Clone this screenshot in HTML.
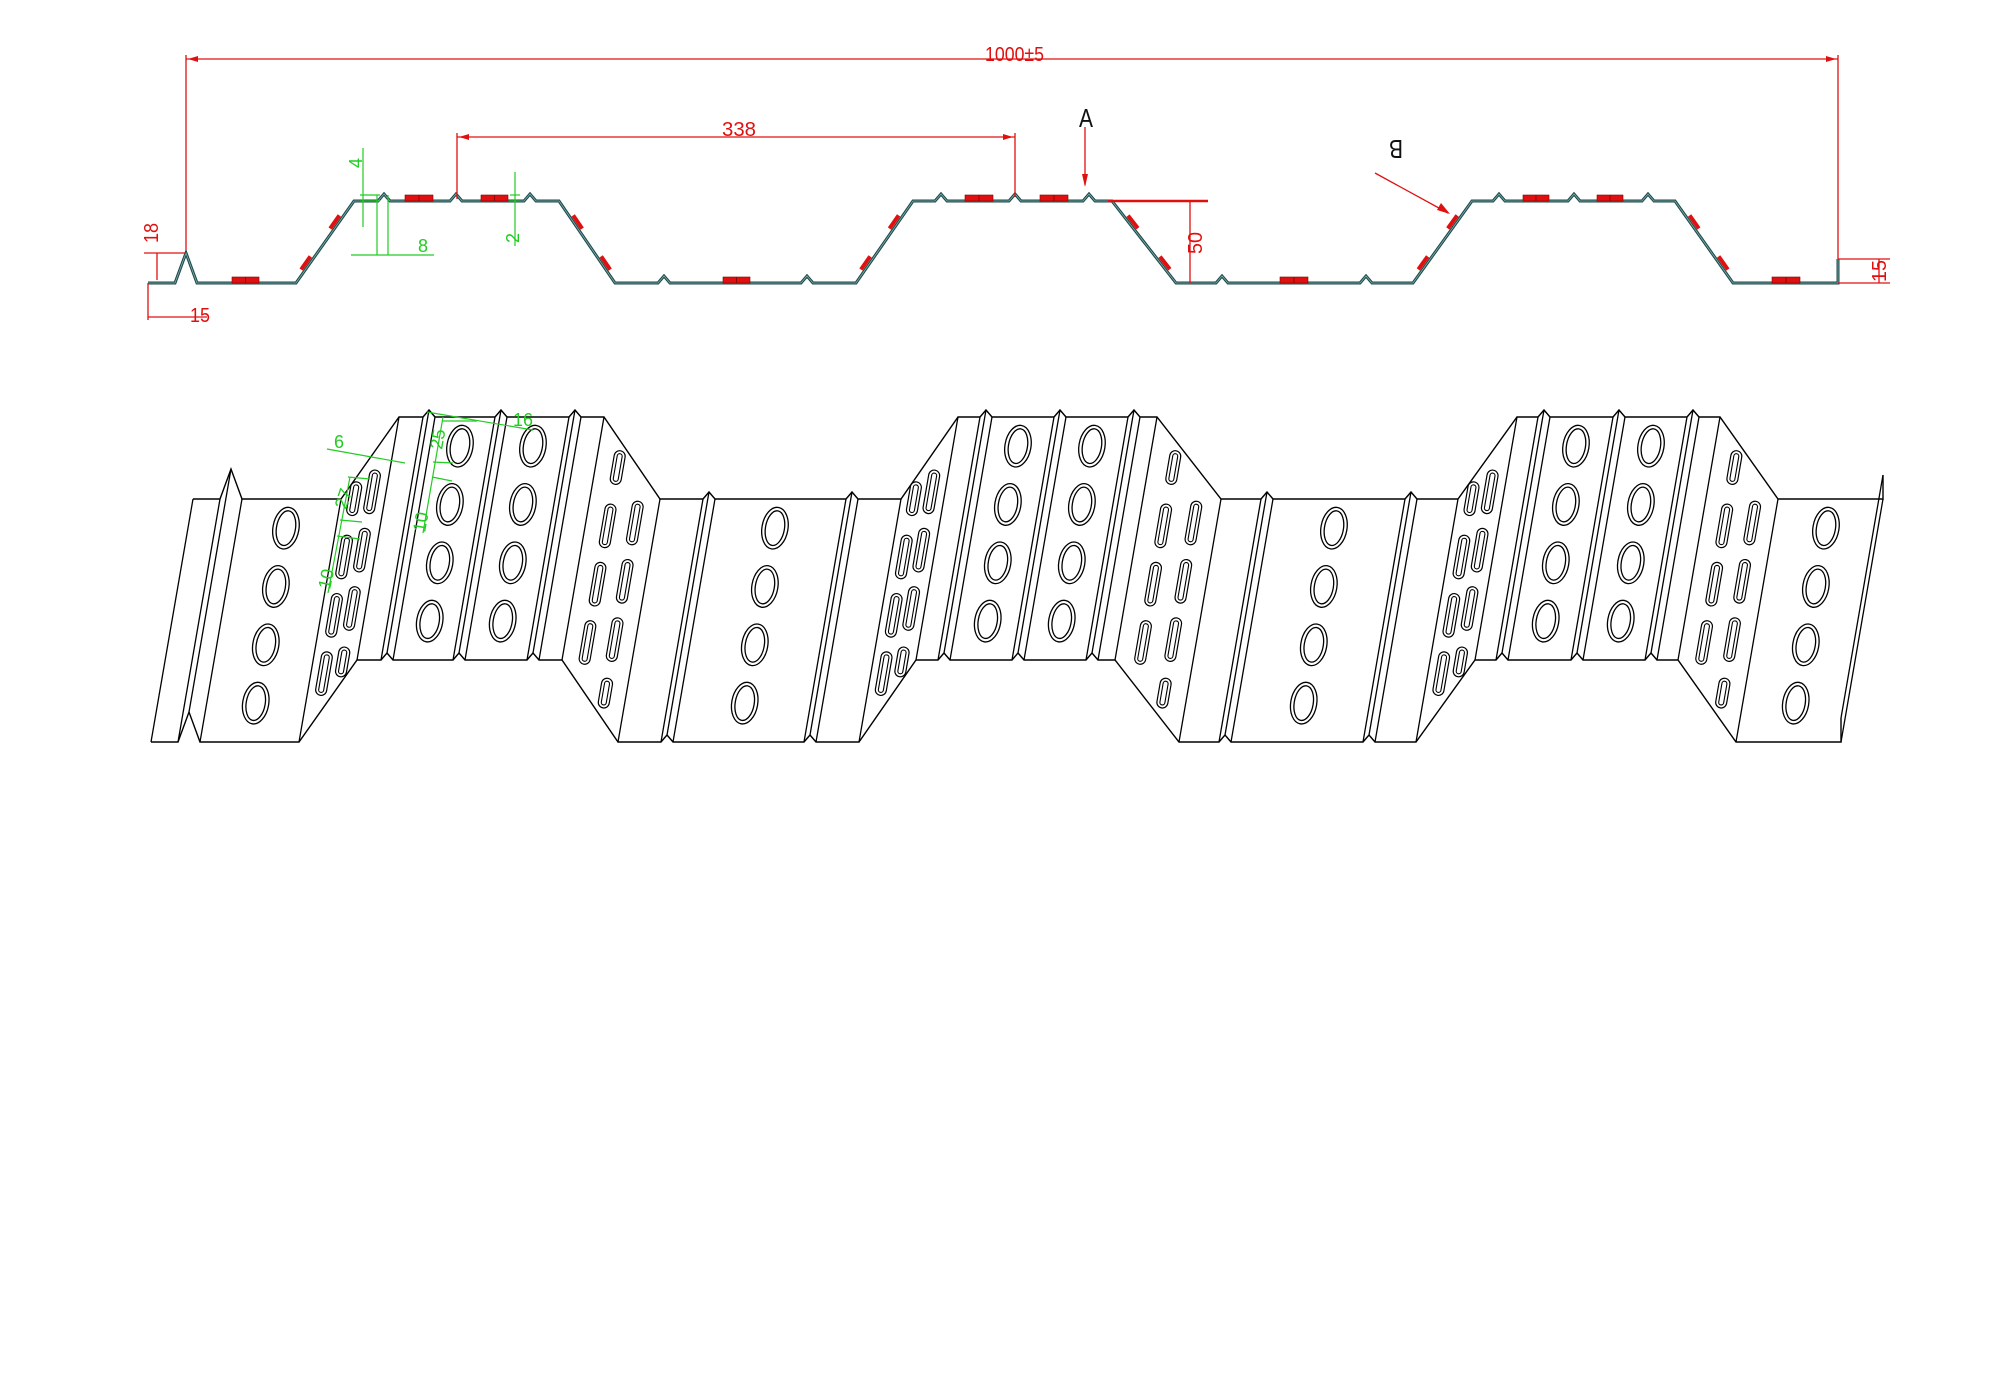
<!DOCTYPE html>
<html><head><meta charset="utf-8"><style>
html,body{margin:0;padding:0;background:#fff;}
svg{display:block;}
text{font-family:"Liberation Sans",sans-serif;}
</style></head><body>
<svg id="s" width="2000" height="1375" viewBox="0 0 2000 1375" xmlns="http://www.w3.org/2000/svg">
<rect width="2000" height="1375" fill="#fff"/>
<g id="geo"></g>
<g stroke="#e01010" stroke-width="1.3" fill="none">
<line x1="186" y1="59" x2="1838" y2="59"/>
<line x1="186" y1="55" x2="186" y2="250"/>
<line x1="1838" y1="55" x2="1838" y2="259"/>
<line x1="457" y1="137" x2="1015" y2="137"/>
<line x1="457" y1="133" x2="457" y2="199"/>
<line x1="1015" y1="133" x2="1015" y2="197"/>
<line x1="1085" y1="127" x2="1085" y2="185"/>
<line x1="1108" y1="201" x2="1208" y2="201" stroke-width="2.5"/>
<line x1="1190" y1="201" x2="1190" y2="283"/>
<line x1="1375" y1="173" x2="1448" y2="213"/>
<line x1="1838" y1="259" x2="1890" y2="259"/>
<line x1="1838" y1="283" x2="1890" y2="283"/>
<line x1="1879" y1="259" x2="1879" y2="283"/>
<line x1="144" y1="253" x2="186" y2="253"/>
<line x1="157" y1="253" x2="157" y2="280"/>
<line x1="148" y1="283" x2="148" y2="320"/>
<line x1="148" y1="317" x2="207" y2="317"/>
</g>
<g fill="#e01010">
<polygon points="1085,187 1082,174 1088,174"/>
<polygon points="1450,214 1437,210 1441,203"/>
<polygon points="459,137 469,134 469,140"/>
<polygon points="1013,137 1003,134 1003,140"/>
<polygon points="188,59 198,56 198,62"/>
<polygon points="1836,59 1826,56 1826,62"/>
</g>
<g fill="#e01010" font-size="20">
<text x="985" y="61" textLength="59" lengthAdjust="spacingAndGlyphs">1000±5</text>
<text x="722" y="136" textLength="34" lengthAdjust="spacingAndGlyphs">338</text>
<text x="190" y="322" textLength="20" lengthAdjust="spacingAndGlyphs">15</text>
<text transform="translate(158,243) rotate(-90)" textLength="20" lengthAdjust="spacingAndGlyphs">18</text>
<text transform="translate(1202,254) rotate(-90)" textLength="22" lengthAdjust="spacingAndGlyphs">50</text>
<text transform="translate(1886,282) rotate(-90)" textLength="22" lengthAdjust="spacingAndGlyphs">15</text>
</g>
<text x="1079" y="127" font-size="26" fill="#111" font-family="Liberation Serif,serif" textLength="14" lengthAdjust="spacingAndGlyphs">A</text>
<text transform="translate(1403,140) rotate(180)" font-size="26" fill="#111" font-family="Liberation Serif,serif" textLength="14" lengthAdjust="spacingAndGlyphs">B</text>
<g stroke="#22cc22" stroke-width="1.2" fill="none">
<line x1="363" y1="148" x2="363" y2="227"/>
<line x1="360" y1="195" x2="380" y2="195"/>
<line x1="360" y1="201" x2="380" y2="201"/>
<line x1="377" y1="195" x2="377" y2="255"/>
<line x1="388" y1="195" x2="388" y2="255"/>
<line x1="351" y1="255" x2="434" y2="255"/>
<line x1="515" y1="172" x2="515" y2="246"/>
<line x1="510" y1="195" x2="520" y2="195"/>
<line x1="510" y1="201" x2="520" y2="201"/>
</g>
<g fill="#22cc22" font-size="18">
<text transform="translate(362,168) rotate(-90)">4</text>
<text x="418" y="252">8</text>
<text transform="translate(519,243) rotate(-90)">2</text>
</g>
<g stroke="#22cc22" stroke-width="1.2" fill="none">
<line x1="327" y1="449" x2="405" y2="463"/>
<line x1="328" y1="593" x2="350" y2="477"/>
<line x1="423" y1="533" x2="443" y2="417"/>
<line x1="427" y1="412" x2="533" y2="430"/>
<line x1="433" y1="462" x2="453" y2="463"/>
<line x1="432" y1="477" x2="452" y2="481"/>
<line x1="442" y1="421" x2="477" y2="421"/>
<line x1="337" y1="536" x2="360" y2="539"/>
<line x1="340" y1="520" x2="362" y2="522"/>
<line x1="348" y1="477" x2="370" y2="479"/>
</g>
<g fill="#22cc22" font-size="18">
<text x="334" y="448">6</text>
<text transform="translate(346,510) rotate(-72)">27</text>
<text transform="translate(330,590) rotate(-78)">10</text>
<text transform="translate(442,450) rotate(-80)">25</text>
<text transform="translate(425,533) rotate(-80)">10</text>
<text x="513" y="426">16</text>
</g>
</svg>
<script>
(function(){
var NS="http://www.w3.org/2000/svg";
var g=document.getElementById("geo");
function el(n,a){var e=document.createElementNS(NS,n);for(var k in a)e.setAttribute(k,a[k]);g.appendChild(e);return e;}
var P=[];
function pt(x,y){P.push([x,y]);}
function notch(x,y){pt(x-6,y);pt(x,y-7);pt(x+6,y);}
pt(148,283);pt(175,283);pt(186,253);pt(197,283);pt(296,283);pt(354,201);
notch(384,201);notch(456,201);notch(530,201);pt(559,201);pt(615,283);
notch(664,283);notch(807,283);pt(856,283);pt(913,201);
notch(941,201);notch(1015,201);notch(1089,201);pt(1112,201);pt(1176,283);
notch(1222,283);notch(1366,283);pt(1413,283);pt(1472,201);
notch(1499,201);notch(1574,201);notch(1648,201);pt(1675,201);pt(1733,283);pt(1838,283);pt(1838,259);
function s(a){return a.map(function(p){return p[0]+","+p[1];}).join(" ");}
el("polyline",{points:s(P),fill:"none",stroke:"#1e4a4a","stroke-width":"3"});
el("polyline",{points:s(P),fill:"none",stroke:"#7fb0b0","stroke-width":"0.8"});
[[405,433,201],[481,508,201],[232,259,283],[1523,1549,201],[1597,1623,201],[1280,1308,283],[1772,1800,283],[965,993,201],[1040,1068,201],[723,750,283]].forEach(function(r){
 var y=r[2];
 el("rect",{x:r[0],y:y-6,width:r[1]-r[0],height:6,fill:"#e01010",stroke:"#800","stroke-width":"0.6"});
 el("line",{x1:(r[0]+r[1])/2,y1:y-6,x2:(r[0]+r[1])/2,y2:y,stroke:"#800","stroke-width":"0.8"});
});
var slopes=[[296,354,1],[615,559,-1],[856,913,1],[1176,1112,-1],[1413,1472,1],[1733,1675,-1]];
slopes.forEach(function(sl){
 var xb=sl[0],xt=sl[1];
 [0.22,0.72].forEach(function(f){
  var dx=xt-xb,dy=-82,L=Math.sqrt(dx*dx+dy*dy),ux=dx/L,uy=dy/L;
  var cx=xb+dx*f,cy=283+dy*f;
  var ox=cx+(sl[2]>0?-3:3),oy=cy-2;
  el("line",{x1:ox-ux*8,y1:oy-uy*8,x2:ox+ux*8,y2:oy+uy*8,stroke:"#e01010","stroke-width":"4"});
 });
});
function B(p){return [p[0]+45,p[1]+216];}
function F(p){return [p[0]+3,p[1]+459];}
var st={fill:"none",stroke:"#000","stroke-width":"1.4"};
function line(a,b,w){el("line",{x1:a[0],y1:a[1],x2:b[0],y2:b[1],stroke:"#000","stroke-width":w||"1.3"});}
el("polyline",Object.assign({points:s(P.map(B))},st));
el("polyline",Object.assign({points:s(P.map(F))},st));
P.forEach(function(p){line(B(p),F(p));});
function M(px,py,t){return [px+45-42*t,py+216+243*t];}
var ang=9.8;
function oval(c,rx,ry){
 el("ellipse",{cx:c[0],cy:c[1],rx:rx,ry:ry,fill:"none",stroke:"#000","stroke-width":"1.3",transform:"rotate("+ang+" "+c[0]+" "+c[1]+")"});
}
var cols=[[246,283],[420,201],[493,201],[735,283],[978,201],[1052,201],[1294,283],[1536,201],[1611,201],[1786,283]];
cols.forEach(function(c){
 [0.12,0.36,0.6,0.84].forEach(function(t){
  var m=M(c[0],c[1],t);oval(m,13,21);oval(m,9.5,17.5);
 });
});
function slot(c,h){
 var tr="rotate("+ang+" "+c[0]+" "+c[1]+")";
 el("rect",{x:c[0]-5.5,y:c[1]-h/2,width:11,height:h,rx:5.5,fill:"none",stroke:"#000","stroke-width":"1.2",transform:tr});
 el("rect",{x:c[0]-2.5,y:c[1]-h/2+3,width:5,height:h-6,rx:2.5,fill:"none",stroke:"#000","stroke-width":"1.1",transform:tr});
}
slopes.forEach(function(sl){
 var xb=sl[0],xt=sl[1];
 [0.3,0.68].forEach(function(f,i){
  var px=xb+(xt-xb)*f,py=283-82*f;
  var ts=i==0?[0.1,0.34,0.58,0.82]:[0.2,0.44,0.68,0.9];
  if(sl[2]<0) ts=i==0?[0.2,0.44,0.68,0.9]:[0.1,0.34,0.58,0.82];
  ts.forEach(function(t){
   var m=M(px,py,t);
   var h=44; if(t<0.12) h=34; if(t>0.88) h=30;
   slot(m,h);
  });
 });
});
})();
</script>
</body></html>
